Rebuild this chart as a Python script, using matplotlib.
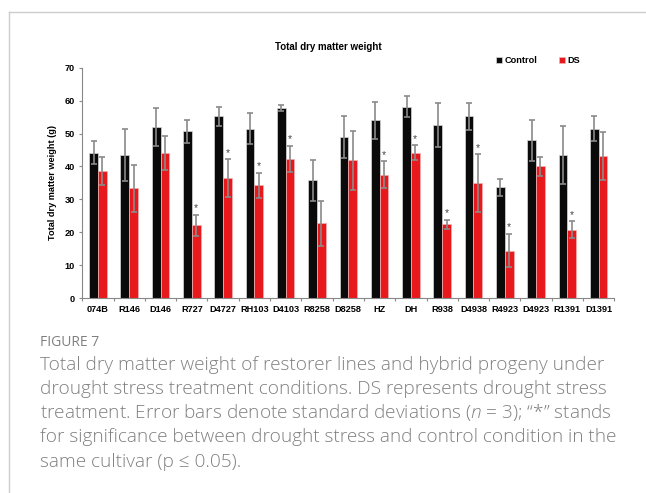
import numpy as np
import matplotlib.pyplot as plt
from matplotlib.lines import Line2D

# data
cultivars = ['074B', 'R146', 'D146', 'R727', 'D4727', 'RH103', 'D4103', 'R8258', 'D8258',
             'HZ', 'DH', 'R938', 'D4938', 'R4923', 'D4923', 'R1391', 'D1391']
control = [44.2, 43.5, 52.0, 50.7, 55.2, 51.5, 57.8, 35.8, 48.9,
           54.0, 58.2, 52.6, 55.2, 33.7, 47.9, 43.5, 51.4]
control_sd = [3.6, 8.0, 5.9, 3.5, 2.9, 4.6, 1.0, 6.2, 6.4,
              5.7, 3.1, 6.8, 4.1, 2.6, 6.3, 8.7, 3.8]
ds = [38.5, 33.3, 44.1, 22.1, 36.5, 34.3, 42.3, 22.7, 41.8,
      37.5, 44.2, 22.4, 34.9, 14.4, 40.1, 20.8, 43.2]
ds_sd = [4.3, 7.1, 5.1, 3.2, 5.7, 3.8, 4.0, 6.9, 8.9,
         4.1, 2.2, 1.4, 8.8, 5.1, 2.9, 2.6, 7.2]
signif = [0, 0, 0, 1, 1, 1, 1, 0, 0,
          1, 1, 1, 1, 1, 0, 1, 0]

caption_head = 'FIGURE 7'
caption_lines = [
    'Total dry matter weight of restorer lines and hybrid progeny under',
    'drought stress treatment conditions. DS represents drought stress',
    'treatment. Error bars denote standard deviations ($n$ = 3); \u201c*\u201d stands',
    'for significance between drought stress and control condition in the',
    'same cultivar (p \u2264 0.05).',
]

W, H = 646, 493
plt.rcParams['font.family'] = ['Liberation Sans', 'DejaVu Sans']
plt.rcParams['mathtext.fontset'] = 'custom'
plt.rcParams['mathtext.it'] = 'Open Sans:italic:light'
plt.rcParams['mathtext.rm'] = 'Open Sans:light'

fig = plt.figure(figsize=(W / 100, H / 100), dpi=100)
ax = fig.add_axes([82.3 / W, 1 - 298 / H, 532 / W, 230.3 / H])

x = np.arange(len(cultivars))
bw = 0.28
ax.bar(x - bw / 2, control, bw, color='#0a0a0a', edgecolor='#d8d8d8', linewidth=0.5, label='Control', zorder=2)
ax.bar(x + bw / 2, ds, bw, color='#e8191c', edgecolor='#f4b0b0', linewidth=0.5, label='DS', zorder=2)
ax.errorbar(x - bw / 2, control, yerr=control_sd, fmt='none', ecolor='#8a8a8a',
            elinewidth=1.2, capsize=2.2, capthick=1.2, zorder=3)
ax.errorbar(x + bw / 2, ds, yerr=ds_sd, fmt='none', ecolor='#8a8a8a',
            elinewidth=1.2, capsize=2.2, capthick=1.2, zorder=3)
for i in range(len(cultivars)):
    if signif[i]:
        ax.text(x[i] + bw / 2, ds[i] + ds_sd[i] + 0.4, '*', ha='center', va='bottom',
                fontsize=7.5, color='#444444')

ax.set_xlim(-0.5, len(cultivars) - 0.5)
ax.set_ylim(0, 70)
ax.set_yticks(np.arange(0, 71, 10))
ax.set_xticks(x)
ax.set_xticklabels(cultivars, fontweight='bold', fontsize=6.6)
ax.set_xticks(np.arange(-0.5, len(cultivars), 1), minor=True)
ax.tick_params(axis='x', which='major', length=0, pad=5.2)
ax.tick_params(axis='x', which='minor', length=2.5, width=0.8, color='#888888', direction='out')
ax.tick_params(axis='y', length=2.5, width=0.8, color='#888888', pad=3, labelsize=6.6)
for lab in ax.get_yticklabels():
    lab.set_fontweight('bold')
for s in ['top', 'right']:
    ax.spines[s].set_visible(False)
for s in ['left', 'bottom']:
    ax.spines[s].set_color('#888888')
    ax.spines[s].set_linewidth(0.8)
ax.set_ylabel('Total dry matter weight (g)', fontsize=6.6, fontweight='bold', labelpad=5)

fig.text(328.5 / W, 1 - 47 / H, 'Total dry matter weight', ha='center', va='center',
         fontsize=7, fontweight='bold')
fig.legend(loc='center left', bbox_to_anchor=(496 / W, 1 - 60.5 / H), ncol=2, frameon=False,
           prop={'weight': 'bold', 'size': 6.6}, handlelength=0.7, handleheight=0.7,
           handletextpad=0.25, columnspacing=2.3, borderpad=0, borderaxespad=0)

# page frame
fig.add_artist(Line2D([9 / W, 1], [1 - 11.5 / H] * 2, transform=fig.transFigure, color='#cccccc', lw=1))
fig.add_artist(Line2D([9 / W] * 2, [0, 1 - 11.5 / H], transform=fig.transFigure, color='#cccccc', lw=1))

# caption
fig.text(40 / W, 1 - 346 / H, caption_head, ha='left', va='baseline', fontsize=10,
         color='#808080', family=['Open Sans', 'DejaVu Sans'])
for k, line in enumerate(caption_lines):
    fig.text(40 / W, 1 - (369.5 + 24.3 * k) / H, line, ha='left', va='baseline', fontsize=13.7,
             color='#808080', fontweight='light', family=['Open Sans', 'DejaVu Sans'])

fig.savefig('out.png', dpi=100)
